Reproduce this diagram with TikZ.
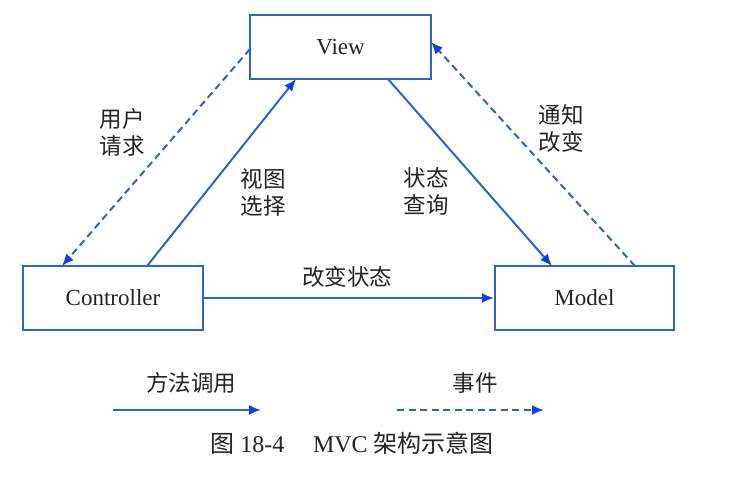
\documentclass[tikz,border=0pt]{standalone}
\usepackage{fontspec}
\setmainfont{Liberation Serif}
\newfontfamily\cjk{Noto Sans CJK SC}
\usetikzlibrary{arrows.meta}
\definecolor{lineblue}{RGB}{45,100,200}
\definecolor{tipblue}{RGB}{20,60,225}
\definecolor{txt}{RGB}{35,35,35}
\tikzset{
  box/.style={draw=lineblue, line width=2pt, fill=white, inner sep=0pt, text=txt,
    font=\fontsize{23}{26}\selectfont},
  call/.style={draw=lineblue, line width=2pt, -{Latex[length=12pt,width=10pt,color=tipblue]}},
  evt/.style={call, dash pattern=on 7pt off 4.5pt},
  lbl/.style={text=txt, font=\cjk\fontsize{22.5}{27}\selectfont, align=center, inner sep=0pt}
}
\begin{document}
\begin{tikzpicture}[x=1pt,y=-1pt]
\useasboundingbox[fill=white] (0,0) rectangle (734,480);
\node[box, minimum width=181pt, minimum height=64pt] (view) at (340.5,47) {View};
\node[box, minimum width=180pt, minimum height=64pt] (ctrl) at (113,298) {Controller};
\node[box, minimum width=179pt, minimum height=64pt] (model) at (584.5,298) {Model};
% connectors
\coordinate (vw) at (250,49);
\coordinate (ct) at (62,266);
\coordinate (ct2) at (147,266);
\coordinate (vb1) at (296,79);
\coordinate (vb2) at (388,79);
\coordinate (mt1) at (552,266);
\coordinate (mt2) at (635,266);
\coordinate (vr) at (431,42);
\draw[evt] (vw) -- (ct);
\draw[call] (ct2) -- (vb1);
\draw[call] (vb2) -- (mt1);
\draw[evt] (mt2) -- (vr);
\draw[call] (ctrl.east) -- (model.west);
% labels
\node[lbl] (l1) at (122,132) {用户\\请求};
\node[lbl] (l2) at (263,192) {视图\\选择};
\node[lbl] (l3) at (426,191) {状态\\查询};
\node[lbl] (l4) at (561,128) {通知\\改变};
\node[lbl] (l5) at (347,277) {改变状态};
% legend
\coordinate (a1) at (113,410);
\coordinate (a2) at (261,410);
\coordinate (b1) at (397,410);
\coordinate (b2) at (544,410);
\draw[call] (a1) -- (a2);
\draw[evt] (b1) -- (b2);
\node[lbl] (leg1) at (191,383) {方法调用};
\node[lbl] (leg2) at (475,383) {事件};
\node[text=txt, inner sep=0pt, font=\fontsize{24}{27}\selectfont] (cap) at (352,443)
  {{\cjk 图} 18-4\hspace{1.2em}MVC {\cjk 架构示意图}};
\end{tikzpicture}
\end{document}
